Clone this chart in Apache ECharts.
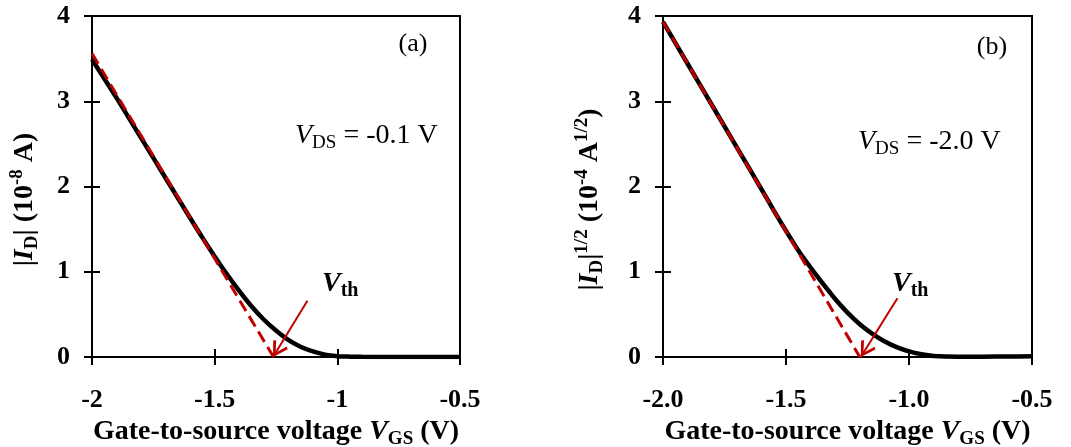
<!DOCTYPE html>
<html><head><meta charset="utf-8">
<script src="https://cdn.jsdelivr.net/npm/echarts@6/dist/echarts.min.js"></script>
<style>html,body{margin:0;padding:0;background:#fff}#c{width:1071px;height:447px}</style>
</head><body><div id="c"></div>
<script>
// ---- data ----
const vgs = [-2.0, -1.9, -1.8, -1.7, -1.6, -1.55, -1.5, -1.45, -1.4, -1.35, -1.3, -1.25, -1.2, -1.15, -1.1, -1.05, -1.0, -0.95, -0.9, -0.8, -0.7, -0.6, -0.5];
const idLinear = [3.49, 3.04, 2.57, 2.10, 1.63, 1.40, 1.18, 0.97, 0.775, 0.595, 0.44, 0.31, 0.20, 0.12, 0.065, 0.028, 0.01, 0.004, 0.002, 0.001, 0.001, 0.001, 0.001];
const idSqrtSat = [3.93, 3.44, 2.95, 2.46, 1.97, 1.72, 1.48, 1.25, 1.05, 0.86, 0.68, 0.52, 0.385, 0.275, 0.185, 0.115, 0.065, 0.032, 0.012, 0.003, 0.004, 0.006, 0.008];
const fitA_x = [-2.0, -1.26];
const fitA_y = [3.56, 0];
const fitB_x = [-2.0, -1.2];
const fitB_y = [3.93, 0];
const arrowA = [[-1.122, 0.66], [-1.262, 0]];
const arrowB = [[-1.047, 0.69], [-1.196, 0]];
const xTicksA = ['-2', '-1.5', '-1', '-0.5'];
const xTicksB = ['-2.0', '-1.5', '-1.0', '-0.5'];
const yTicks = ['0', '1', '2', '3', '4'];

const FONT = '"Liberation Serif","Times New Roman",serif';
const RED = '#C00000';
const pair = (xs, ys) => xs.map((x, i) => [x, ys[i]]);

const nameRich = {
  t: {fontFamily: FONT, fontWeight: 'bold', fontSize: 28, color: '#000', lineHeight: 34},
  i: {fontFamily: FONT, fontWeight: 'bold', fontStyle: 'italic', fontSize: 28, color: '#000', lineHeight: 34},
  sub: {fontFamily: FONT, fontWeight: 'bold', fontSize: 19, color: '#000', verticalAlign: 'bottom', lineHeight: 19},
  sup: {fontFamily: FONT, fontWeight: 'bold', fontSize: 19, color: '#000', verticalAlign: 'top', lineHeight: 19}
};

function xMain(g, labels) {
  return {
    type: 'value', gridIndex: g, position: 'bottom', min: -2, max: -0.5, interval: 0.5,
    axisLine: {show: true, onZero: false, lineStyle: {color: '#000', width: 2}},
    axisTick: {show: true, inside: true, length: 8, lineStyle: {color: '#000', width: 2}},
    axisLabel: {margin: 30, color: '#000', fontFamily: FONT, fontWeight: 'bold', fontSize: 26,
      showMinLabel: true, showMaxLabel: true,
      formatter: v => labels[Math.round((v + 2) / 0.5)]},
    splitLine: {show: false},
    name: '{t|Gate-to-source voltage }{i|V}{sub|GS}{t| (V)}',
    nameLocation: 'middle', nameGap: 51,
    nameTextStyle: {rich: nameRich}
  };
}
function xTickOut(g) {
  return {
    type: 'value', gridIndex: g, position: 'bottom', min: -2, max: -0.5, interval: 0.5,
    axisLine: {show: false, onZero: false},
    axisTick: {show: true, inside: false, length: 8, lineStyle: {color: '#000', width: 2}},
    axisLabel: {show: false}, splitLine: {show: false}
  };
}
function yMain(g, name, gap) {
  return {
    type: 'value', gridIndex: g, position: 'left', min: 0, max: 4, interval: 1,
    axisLine: {show: true, onZero: false, lineStyle: {color: '#000', width: 2}},
    axisTick: {show: true, inside: true, length: 8, lineStyle: {color: '#000', width: 2}},
    axisLabel: {margin: 22, color: '#000', fontFamily: FONT, fontWeight: 'bold', fontSize: 26,
      showMinLabel: true, showMaxLabel: true,
      formatter: v => yTicks[Math.round(v)]},
    splitLine: {show: false},
    name: name, nameLocation: 'middle', nameGap: gap,
    nameTextStyle: {rich: nameRich, padding: [0, 26, 0, 0]}
  };
}
function yTickOut(g) {
  return {
    type: 'value', gridIndex: g, position: 'left', min: 0, max: 4, interval: 1,
    axisLine: {show: false, onZero: false},
    axisTick: {show: true, inside: false, length: 8, lineStyle: {color: '#000', width: 2}},
    axisLabel: {show: false}, splitLine: {show: false}
  };
}
const chevron = 'path://M5,0 L10,8 L8.6,9 L5,2.8 L1.4,9 L0,8 Z M5,-9 L5.01,-9 L5,-8.99 Z';
function arrowLine(a) {
  return {
    silent: true, animation: false,
    symbol: ['none', chevron], symbolSize: [17, 32],
    lineStyle: {type: 'solid', color: RED, width: 2},
    itemStyle: {color: RED},
    label: {show: false},
    emphasis: {disabled: true},
    data: [[{coord: a[0]}, {coord: a[1]}]]
  };
}

const textRich = {
  n: {fontFamily: FONT, fontSize: 28, color: '#000', lineHeight: 34},
  i: {fontFamily: FONT, fontStyle: 'italic', fontSize: 28, color: '#000', lineHeight: 34},
  s: {fontFamily: FONT, fontSize: 19, color: '#000', verticalAlign: 'bottom', lineHeight: 19},
  p: {fontFamily: FONT, fontSize: 26, color: '#000', lineHeight: 32},
  rv: {fontFamily: FONT, fontStyle: 'italic', fontWeight: 'bold', fontSize: 28, color: RED, lineHeight: 34},
  rs: {fontFamily: FONT, fontWeight: 'bold', fontSize: 20, color: RED, verticalAlign: 'bottom', lineHeight: 20}
};
function txt(x, y, text, align) {
  return {type: 'text', x: x, y: y, silent: true,
    style: {text: text, rich: textRich, align: align || 'left', verticalAlign: 'middle',
      fontFamily: FONT, fontSize: 24, fill: '#000'}};
}

const chart = echarts.init(document.getElementById('c'), null, {renderer: 'canvas'});
chart.setOption({
  backgroundColor: '#fff',
  animation: false,
  grid: [
    {left: 92, right: 611, top: 16, bottom: 90, show: true, borderColor: '#000', borderWidth: 2, backgroundColor: 'transparent', containLabel: false, outerBoundsMode: 'none'},
    {left: 663, right: 39, top: 16, bottom: 90, show: true, borderColor: '#000', borderWidth: 2, backgroundColor: 'transparent', containLabel: false, outerBoundsMode: 'none'}
  ],
  xAxis: [xMain(0, xTicksA), xTickOut(0), xMain(1, xTicksB), xTickOut(1)],
  yAxis: [
    yMain(0, '{t||}{i|I}{sub|D}{t|| (10}{sup|-8}{t| A)}', 50), yTickOut(0),
    yMain(1, '{t||}{i|I}{sub|D}{t||}{sup|1/2}{t| (10}{sup|-4}{t| A}{sup|1/2}{t|)}', 56), yTickOut(1)
  ],
  series: [
    {type: 'line', xAxisIndex: 0, yAxisIndex: 0, data: pair(vgs, idLinear), smooth: 0.3,
      showSymbol: false, lineStyle: {color: '#000', width: 4.5}, z: 2},
    {type: 'line', xAxisIndex: 0, yAxisIndex: 0, data: pair(fitA_x, fitA_y),
      showSymbol: false, lineStyle: {color: RED, width: 3, type: [12, 6]}, z: 3,
      markLine: arrowLine(arrowA)},
    {type: 'line', xAxisIndex: 2, yAxisIndex: 2, data: pair(vgs, idSqrtSat), smooth: 0.3,
      showSymbol: false, lineStyle: {color: '#000', width: 4.5}, z: 2},
    {type: 'line', xAxisIndex: 2, yAxisIndex: 2, data: pair(fitB_x, fitB_y),
      showSymbol: false, lineStyle: {color: RED, width: 3, type: [12, 6]}, z: 3,
      markLine: arrowLine(arrowB)}
  ],
  graphic: [
    txt(413, 44, '{p|(a)}', 'center'),
    txt(295, 136, '{i|V}{s|DS}{n| = -0.1 V}'),
    txt(322, 284, '{rv|V}{rs|th}'),
    txt(992, 47, '{p|(b)}', 'center'),
    txt(858, 142, '{i|V}{s|DS}{n| = -2.0 V}'),
    txt(892, 284, '{rv|V}{rs|th}')
  ]
});
</script></body></html>
